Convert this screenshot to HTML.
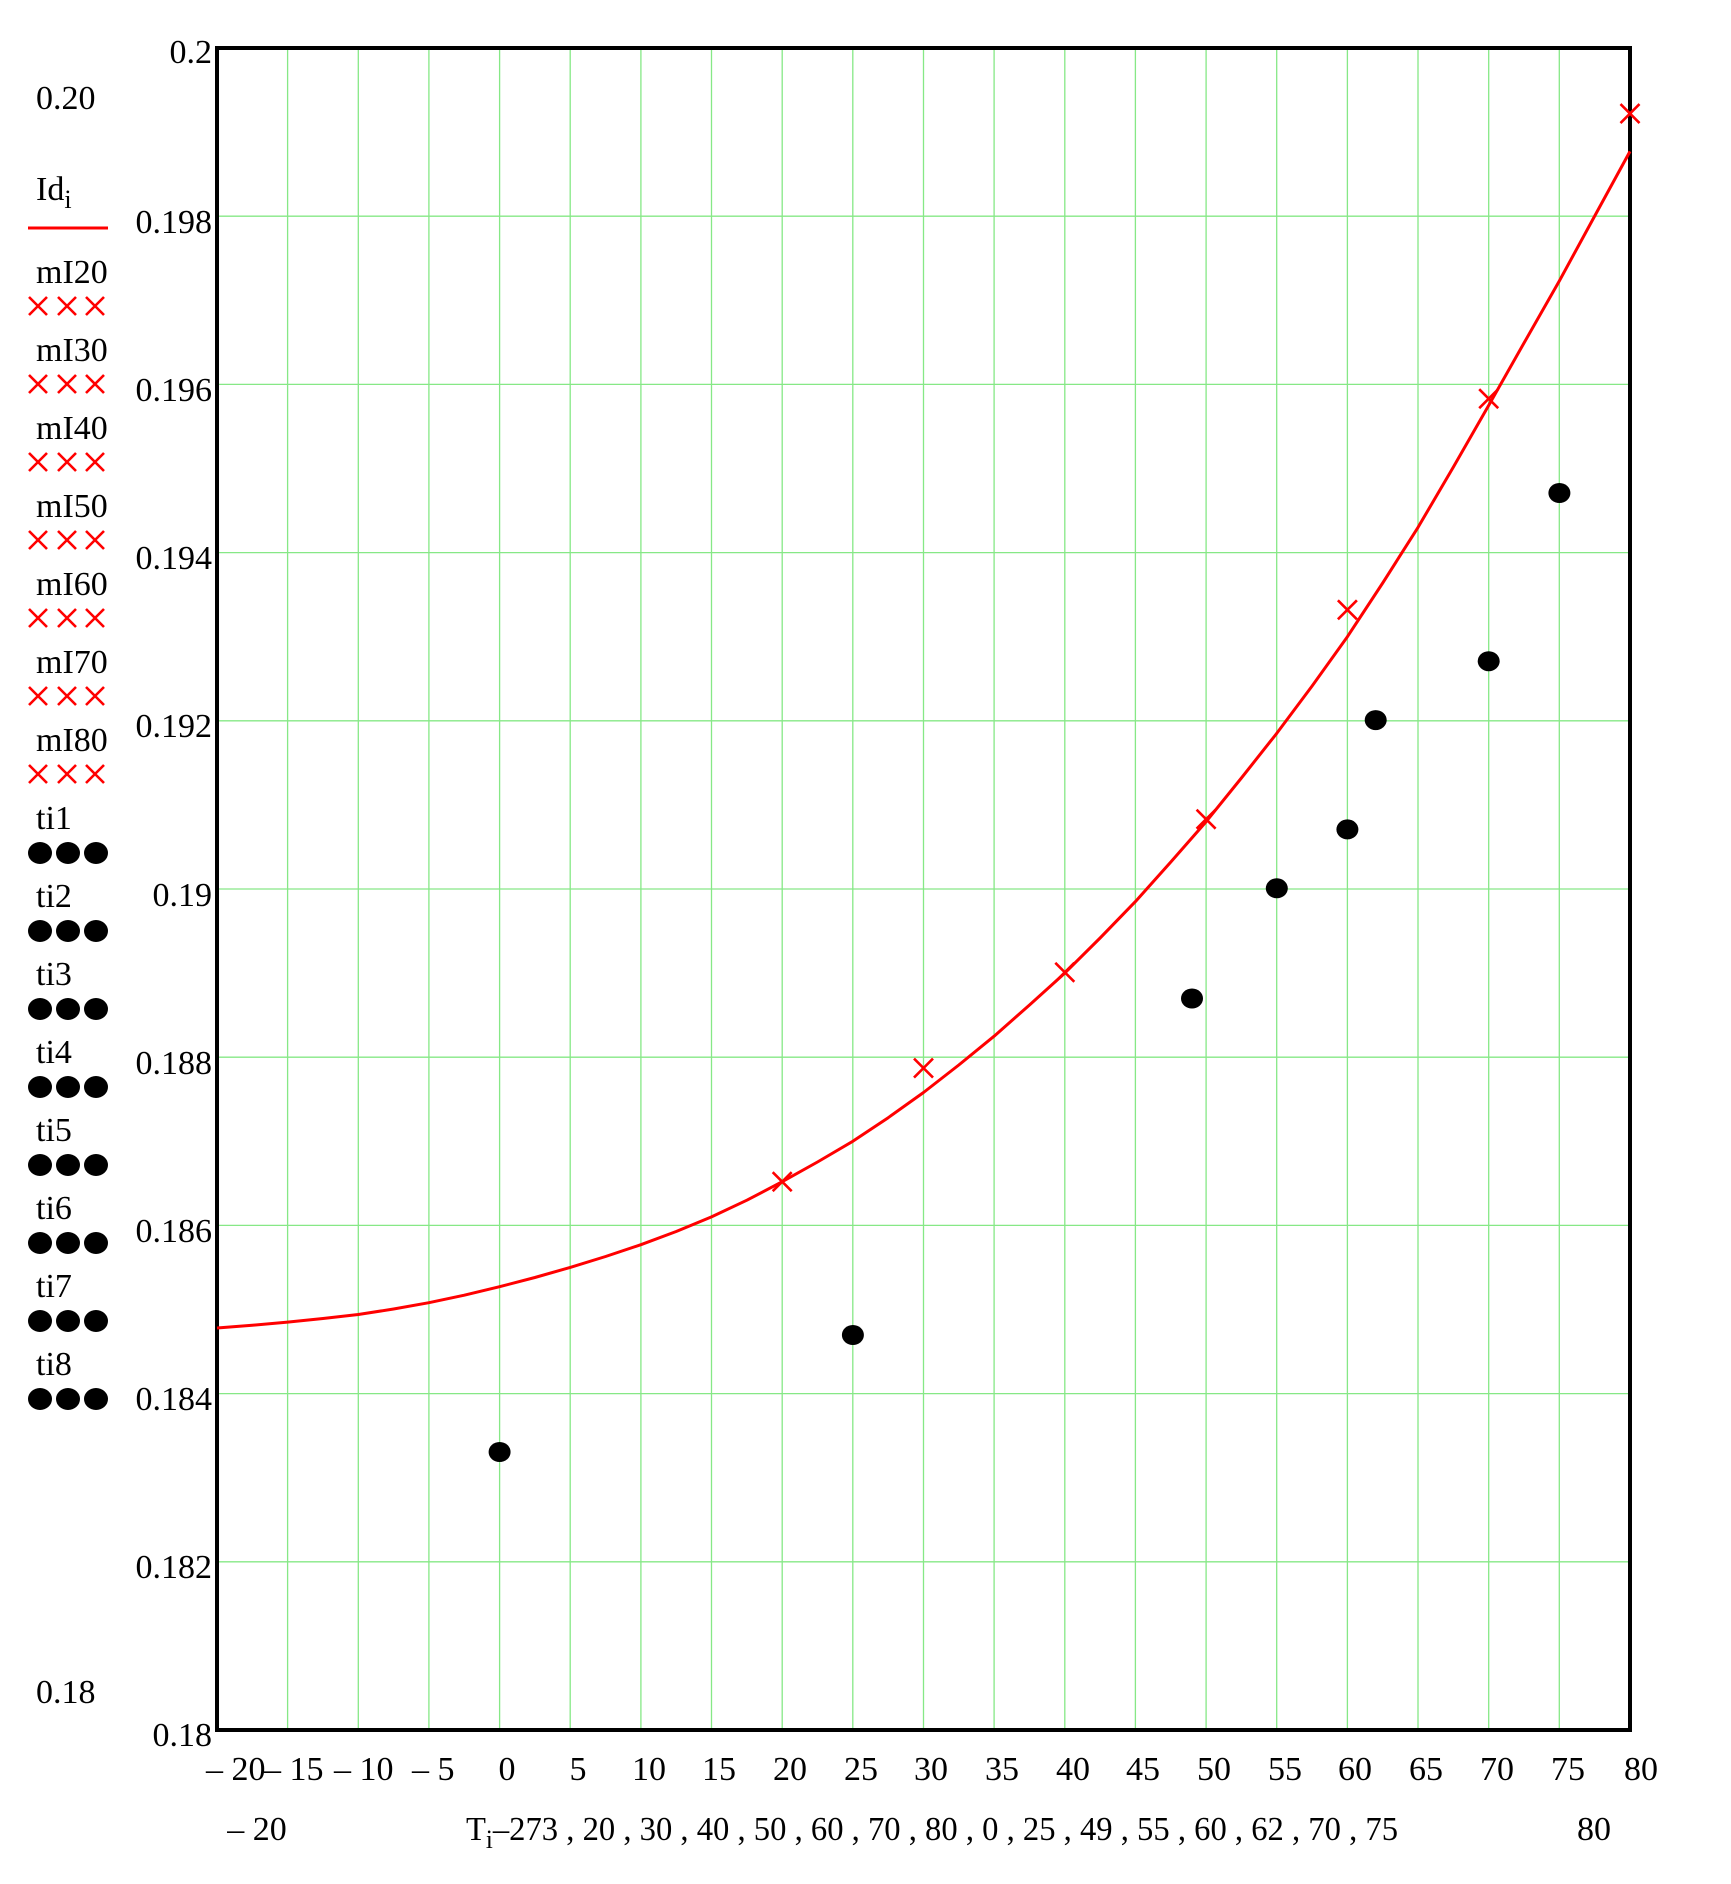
<!DOCTYPE html>
<html><head><meta charset="utf-8"><style>
html,body{margin:0;padding:0;background:#fff;}
svg{display:block;}
text{font-family:"Liberation Serif",serif;font-size:34px;fill:#000;}
</style></head><body>
<svg width="1731" height="1884" viewBox="0 0 1731 1884" xmlns="http://www.w3.org/2000/svg">
<g stroke="#86e886" stroke-width="1.3">
<line x1="287.6" y1="48" x2="287.6" y2="1730"/><line x1="358.3" y1="48" x2="358.3" y2="1730"/>
<line x1="428.9" y1="48" x2="428.9" y2="1730"/><line x1="499.6" y1="48" x2="499.6" y2="1730"/>
<line x1="570.2" y1="48" x2="570.2" y2="1730"/><line x1="640.9" y1="48" x2="640.9" y2="1730"/>
<line x1="711.5" y1="48" x2="711.5" y2="1730"/><line x1="782.2" y1="48" x2="782.2" y2="1730"/>
<line x1="852.8" y1="48" x2="852.8" y2="1730"/><line x1="923.5" y1="48" x2="923.5" y2="1730"/>
<line x1="994.1" y1="48" x2="994.1" y2="1730"/><line x1="1064.8" y1="48" x2="1064.8" y2="1730"/>
<line x1="1135.4" y1="48" x2="1135.4" y2="1730"/><line x1="1206.1" y1="48" x2="1206.1" y2="1730"/>
<line x1="1276.7" y1="48" x2="1276.7" y2="1730"/><line x1="1347.4" y1="48" x2="1347.4" y2="1730"/>
<line x1="1418" y1="48" x2="1418" y2="1730"/><line x1="1488.7" y1="48" x2="1488.7" y2="1730"/>
<line x1="1559.3" y1="48" x2="1559.3" y2="1730"/>
<line x1="217" y1="216.2" x2="1630" y2="216.2"/><line x1="217" y1="384.4" x2="1630" y2="384.4"/>
<line x1="217" y1="552.6" x2="1630" y2="552.6"/><line x1="217" y1="720.8" x2="1630" y2="720.8"/>
<line x1="217" y1="889" x2="1630" y2="889"/><line x1="217" y1="1057.2" x2="1630" y2="1057.2"/>
<line x1="217" y1="1225.4" x2="1630" y2="1225.4"/><line x1="217" y1="1393.6" x2="1630" y2="1393.6"/>
<line x1="217" y1="1561.8" x2="1630" y2="1561.8"/>
</g>
<rect x="217" y="48" width="1413" height="1682" fill="none" stroke="#000" stroke-width="4"/>
<polyline fill="none" stroke="#ff0000" stroke-width="3" stroke-linejoin="round" points="
217,1328.0 252.3,1325.3 287.6,1322.1 323,1318.5 358.3,1314.5 393.6,1309 428.9,1302.7 464.3,1295.2 499.6,1286.7 534.9,1277.5 570.2,1267.4 605.6,1256.5 640.9,1244.7 676.2,1231.5 711.5,1216.9 746.9,1200.2 782.2,1181.7 817.5,1162 852.8,1141.3 888.2,1117.7 923.5,1092.5 958.8,1065 994.1,1036.2 1029.5,1005 1064.8,973.1 1100.1,938 1135.4,901.6 1170.8,862 1206.1,821.7 1241.4,778 1276.7,733.4 1312.1,686 1347.4,636.7 1382.7,583 1418,527.4 1453.4,467 1488.7,405.4 1524,343 1559.3,281.0 1594.7,216 1630,151.4"/>
<g stroke="#ff0000" stroke-width="2.6" fill="none">
<path d="M772.7,1172.2l19,19m0,-19l-19,19"/>
<path d="M914,1058.6l19,19m0,-19l-19,19"/>
<path d="M1055.3,962.8l19,19m0,-19l-19,19"/>
<path d="M1196.6,809.7l19,19m0,-19l-19,19"/>
<path d="M1337.9,600.3l19,19m0,-19l-19,19"/>
<path d="M1479.2,389.2l19,19m0,-19l-19,19"/>
<path d="M1620.5,104.1l19,19m0,-19l-19,19"/>
</g>
<g fill="#000">
<ellipse cx="499.6" cy="1452" rx="11" ry="10"/>
<ellipse cx="852.9" cy="1335" rx="11" ry="10"/>
<ellipse cx="1192" cy="998.5" rx="11" ry="10"/>
<ellipse cx="1276.8" cy="888.3" rx="11" ry="10"/>
<ellipse cx="1347.4" cy="829.4" rx="11" ry="10"/>
<ellipse cx="1375.7" cy="720.1" rx="11" ry="10"/>
<ellipse cx="1488.7" cy="661.2" rx="11" ry="10"/>
<ellipse cx="1559.4" cy="493" rx="11" ry="10"/>
</g>
<g text-anchor="end">
<text x="212" y="63">0.2</text>
<text x="212" y="233">0.198</text>
<text x="212" y="401">0.196</text>
<text x="212" y="569">0.194</text>
<text x="212" y="737">0.192</text>
<text x="212" y="906">0.19</text>
<text x="212" y="1074">0.188</text>
<text x="212" y="1242">0.186</text>
<text x="212" y="1410">0.184</text>
<text x="212" y="1578">0.182</text>
<text x="212" y="1746">0.18</text>
</g>
<text x="206" y="1780">– 20</text>
<text x="264" y="1780">– 15</text>
<text x="334" y="1780">– 10</text>
<text x="412" y="1780">– 5</text>
<g text-anchor="middle">
<text x="507" y="1780">0</text>
<text x="578" y="1780">5</text>
<text x="649" y="1780">10</text>
<text x="719" y="1780">15</text>
<text x="790" y="1780">20</text>
<text x="861" y="1780">25</text>
<text x="931" y="1780">30</text>
<text x="1002" y="1780">35</text>
<text x="1073" y="1780">40</text>
<text x="1143" y="1780">45</text>
<text x="1214" y="1780">50</text>
<text x="1285" y="1780">55</text>
<text x="1355" y="1780">60</text>
<text x="1426" y="1780">65</text>
<text x="1497" y="1780">70</text>
<text x="1568" y="1780">75</text>
<text x="1641" y="1780">80</text>
<text x="257" y="1840">– 20</text>
<text x="1594" y="1840">80</text>
</g>
<text x="466" y="1840" textLength="932" lengthAdjust="spacingAndGlyphs">T<tspan font-size="26" dy="8">i</tspan><tspan dy="-8">–273 , 20 , 30 , 40 , 50 , 60 , 70 , 80 , 0 , 25 , 49 , 55 , 60 , 62 , 70 , 75</tspan></text>
<text x="36" y="109">0.20</text>
<text x="36" y="1703">0.18</text>
<text x="36" y="200">Id<tspan font-size="26" dy="8">i</tspan></text>
<line x1="28" y1="228" x2="108" y2="228" stroke="#ff0000" stroke-width="3"/>
<g>
<text x="36" y="283">mI20</text><text x="36" y="361">mI30</text><text x="36" y="439">mI40</text>
<text x="36" y="517">mI50</text><text x="36" y="595">mI60</text><text x="36" y="673">mI70</text>
<text x="36" y="751">mI80</text>
<text x="36" y="829">ti1</text><text x="36" y="907">ti2</text><text x="36" y="985">ti3</text>
<text x="36" y="1063">ti4</text><text x="36" y="1141">ti5</text><text x="36" y="1219">ti6</text>
<text x="36" y="1297">ti7</text><text x="36" y="1375">ti8</text>
</g>
<g stroke="#ff0000" stroke-width="2.6" fill="none">
<path id="cx" d="M29,297l18,18m0,-18l-18,18 M58,297l18,18m0,-18l-18,18 M86,297l18,18m0,-18l-18,18"/>
<use href="#cx" y="78"/><use href="#cx" y="156"/><use href="#cx" y="234"/>
<use href="#cx" y="312"/><use href="#cx" y="390"/><use href="#cx" y="468"/>
</g>
<g fill="#000">
<g id="dd"><ellipse cx="40" cy="853" rx="12" ry="11"/><ellipse cx="68" cy="853" rx="12" ry="11"/><ellipse cx="96" cy="853" rx="12" ry="11"/></g>
<use href="#dd" y="78"/><use href="#dd" y="156"/><use href="#dd" y="234"/>
<use href="#dd" y="312"/><use href="#dd" y="390"/><use href="#dd" y="468"/><use href="#dd" y="546"/>
</g>
</svg>
</body></html>
